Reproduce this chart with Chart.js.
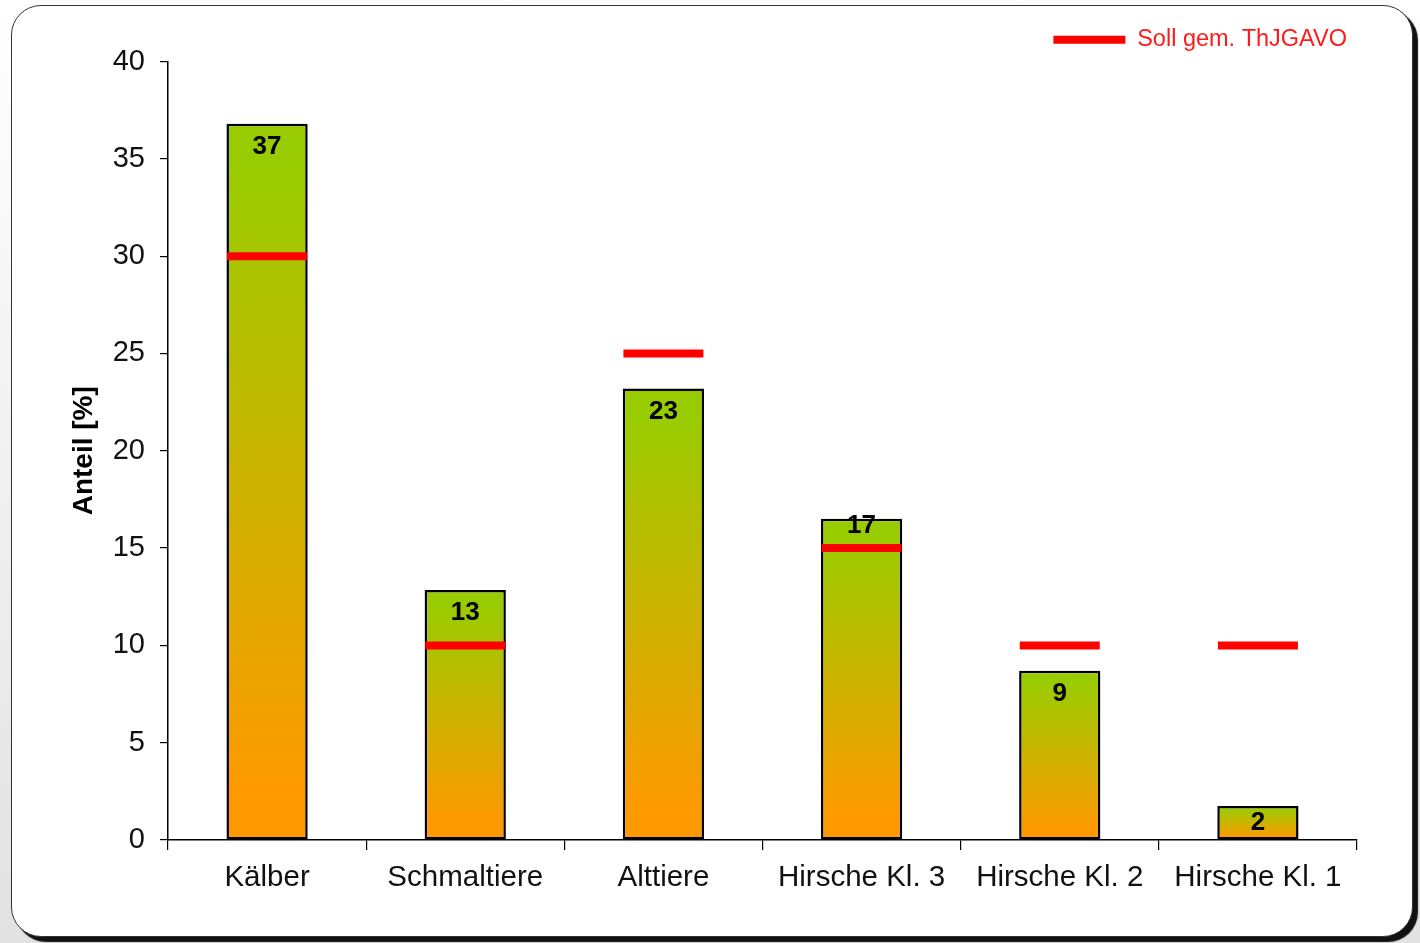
<!DOCTYPE html>
<html><head><meta charset="utf-8">
<script src="https://cdn.jsdelivr.net/npm/chart.js@4"></script>
<style>
html,body{margin:0;padding:0;width:1420px;height:943px;overflow:hidden;background:linear-gradient(#ffffff,#e2e2e2);}
#frame{position:absolute;left:11px;top:5px;width:1400px;height:930px;background:#fff;border:1.5px solid #333;border-radius:30px;box-shadow:5px 5px 1px #111;}
#wrap{position:absolute;left:0;top:0;width:1420px;height:943px;}
</style></head><body>
<div id="frame"></div>
<div id="wrap"><canvas id="c" width="1420" height="943"></canvas></div>
<script>
const categories = ['Kälber', 'Schmaltiere', 'Alttiere', 'Hirsche Kl. 3', 'Hirsche Kl. 2', 'Hirsche Kl. 1'];
const istValues = [36.8, 12.85, 23.2, 16.5, 8.7, 1.75];
const sollValues = [30, 10, 25, 15, 10, 10];
const sollLabel = 'Soll gem. ThJGAVO';
const yAxisTitle = 'Anteil [%]';

const FONT = '"Liberation Sans", Arial, sans-serif';

const labelPlugin = {
  id: 'barLabels',
  afterDatasetsDraw(chart) {
    const meta = chart.getDatasetMeta(0);
    const yScale = chart.scales.y;
    const ctx = chart.ctx;
    ctx.save();
    ctx.font = 'bold 26px ' + FONT;
    ctx.fillStyle = '#000';
    ctx.textAlign = 'center';
    ctx.textBaseline = 'middle';
    meta.data.forEach((bar, i) => {
      let y = bar.y + 23;
      const mid = (bar.y + bar.base) / 2;
      if (y > mid) y = mid;
      const target = yScale.getPixelForValue(sollValues[i]);
      if (Math.abs(y - target) < 14) y = bar.y + 7;
      ctx.fillText(String(Math.round(istValues[i])), bar.x, y);
    });
    ctx.restore();
  }
};

new Chart(document.getElementById('c'), {
  data: {
    labels: categories,
    datasets: [
      {
        type: 'bar',
        label: 'Ist',
        data: istValues,
        order: 2,
        borderColor: '#000',
        borderWidth: 2.5,
        borderSkipped: false,
        categoryPercentage: 1,
        barPercentage: 0.41,
        backgroundColor(c) {
          const chart = c.chart;
          if (!chart.chartArea || c.type !== 'data' || !c.parsed) return '#99cc00';
          const ys = chart.scales.y;
          const top = ys.getPixelForValue(c.parsed.y);
          const bottom = ys.getPixelForValue(0);
          const g = chart.ctx.createLinearGradient(0, top, 0, bottom);
          g.addColorStop(0, '#99cc00');
          g.addColorStop(0.06, '#99cc00');
          g.addColorStop(0.94, '#ff9900');
          g.addColorStop(1, '#ff9900');
          return g;
        }
      },
      {
        type: 'line',
        label: sollLabel,
        data: sollValues,
        order: 1,
        showLine: false,
        pointStyle: 'line',
        pointRadius: 40,
        pointHoverRadius: 40,
        pointBorderWidth: 8,
        pointBorderColor: '#ff0000',
        pointBackgroundColor: '#ff0000',
        borderColor: '#ff0000'
      }
    ]
  },
  options: {
    responsive: false,
    devicePixelRatio: 1,
    animation: false,
    events: [],
    layout: { padding: { left: 63, right: 63, top: 18, bottom: 0 } },
    plugins: {
      tooltip: { enabled: false },
      legend: {
        position: 'top',
        align: 'end',
        labels: {
          boxWidth: 72,
          boxHeight: 8,
          padding: 10,
          color: '#ff1a1a',
          font: { family: FONT, size: 23.5 },
          generateLabels() {
            return [{ text: sollLabel, fillStyle: '#ff0000', strokeStyle: '#ff0000', lineWidth: 0, fontColor: '#ff1a1a', datasetIndex: 1 }];
          }
        }
      }
    },
    scales: {
      x: {
        type: 'category',
        offset: true,
        grid: { offset: true, drawOnChartArea: false, tickLength: 10, color: '#000', lineWidth: 1.2 },
        border: { color: '#000', width: 1.5 },
        ticks: { color: '#111', padding: 10, font: { family: FONT, size: 29.5 }, maxRotation: 0, autoSkip: false },
        afterFit(s) { s.height = 103; }
      },
      y: {
        min: 0, max: 40,
        grid: { drawOnChartArea: false, tickLength: 8, color: '#000', lineWidth: 1.2 },
        border: { color: '#000', width: 1.5 },
        ticks: { stepSize: 5, color: '#111', padding: 15, font: { family: FONT, size: 29 } },
        title: { display: true, text: yAxisTitle, color: '#000', font: { family: FONT, size: 28, weight: 'bold' } },
        afterFit(s) { s.width = 105; }
      }
    }
  },
  plugins: [labelPlugin]
});
</script>
</body></html>
